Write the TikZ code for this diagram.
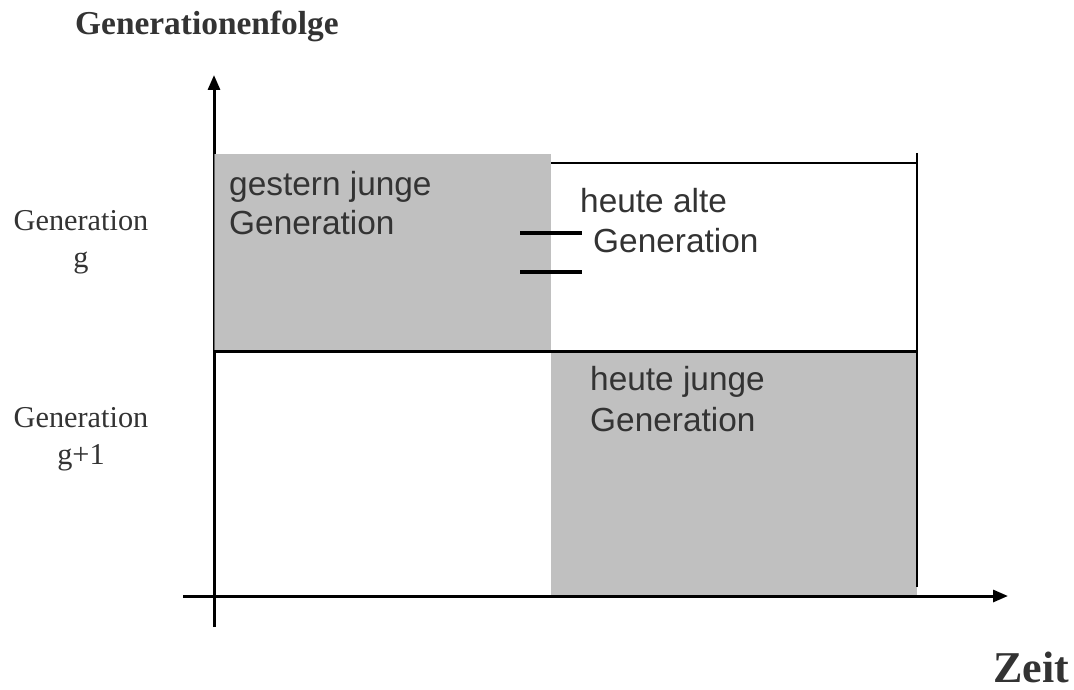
\documentclass[tikz,border=0pt]{standalone}
\usepackage{fontspec}
\setmainfont{Liberation Serif}
\newfontfamily\arialfont{Liberation Sans}
\usetikzlibrary{arrows.meta}
\definecolor{txtgray}{HTML}{333333}
\definecolor{boxgray}{HTML}{C0C0C0}
\tikzset{
  axis/.style={line width=3pt, -{Triangle[length=15pt,width=12pt]}},
  rule/.style={line width=2.5pt},
  thinrule/.style={line width=1.2pt},
  shade/.style={fill=boxgray},
  boxlabel/.style={anchor=base west, inner sep=0pt, text=txtgray,
    font=\arialfont\fontsize{33.4}{39.5}\selectfont},
  rowlabel/.style={anchor=base, inner sep=0pt, text=txtgray,
    font=\fontsize{30.3}{37}\selectfont},
  heading/.style={anchor=base west, inner sep=0pt, text=txtgray}
}
\begin{document}
\begin{tikzpicture}[x=1pt, y=-1pt]
  \useasboundingbox (0,0) rectangle (1074,690);

  % axis end points
  \coordinate (yfoot) at (214,627);
  \coordinate (ytip)  at (214,75);
  \coordinate (xfoot) at (183,596);
  \coordinate (xtip)  at (1008,596);

  % time axis and generation axis
  \draw[axis] (xfoot) -- (xtip);
  \draw[axis] (yfoot) -- (ytip);

  % shaded generation blocks
  \fill[shade] (214,154) rectangle (551,351);
  \draw[line width=0.8pt, black!60] (214.4,154) -- (214.4,351);
  \fill[shade] (551,351) rectangle (917,594.5);

  % frame of the upper right block and the split between generations
  \draw[rule] (551,163) -- (918,163);
  \draw[line width=2pt] (917,153) -- (917,351);
  \draw[thinrule] (917,351) -- (917,587);
  \draw[line width=3pt] (214,351) -- (918,351);

  % equals sign between the two blocks
  \draw[line width=4pt] (520,233) -- (582,233);
  \draw[line width=4pt] (520,272) -- (582,272);

  % headings
  \node[heading, font=\bfseries\fontsize{33.4}{40}\selectfont] (title) at (75,35) {Generationenfolge};
  \node[heading, font=\bfseries\fontsize{44}{50}\selectfont] (zeit) at (993,682) {Zeit};

  % row labels
  \node[rowlabel] (gen) at (81,230)
    {\begin{tabular}[t]{@{}c@{}}Generation\\g\end{tabular}};
  \node[rowlabel] (gennext) at (81,427)
    {\begin{tabular}[t]{@{}c@{}}Generation\\g+1\end{tabular}};

  % block labels
  \node[boxlabel] (gestern) at (229,195)
    {\begin{tabular}[t]{@{}l@{}}gestern junge\\Generation\end{tabular}};
  \node[boxlabel, font=\arialfont\fontsize{33.4}{40}\selectfont] (alt) at (580,212)
    {\begin{tabular}[t]{@{}l@{}}heute alte\\\hspace*{13pt}Generation\end{tabular}};
  \node[boxlabel, font=\arialfont\fontsize{33.4}{41}\selectfont] (jung) at (590,390)
    {\begin{tabular}[t]{@{}l@{}}heute junge\\Generation\end{tabular}};
\end{tikzpicture}
\end{document}
